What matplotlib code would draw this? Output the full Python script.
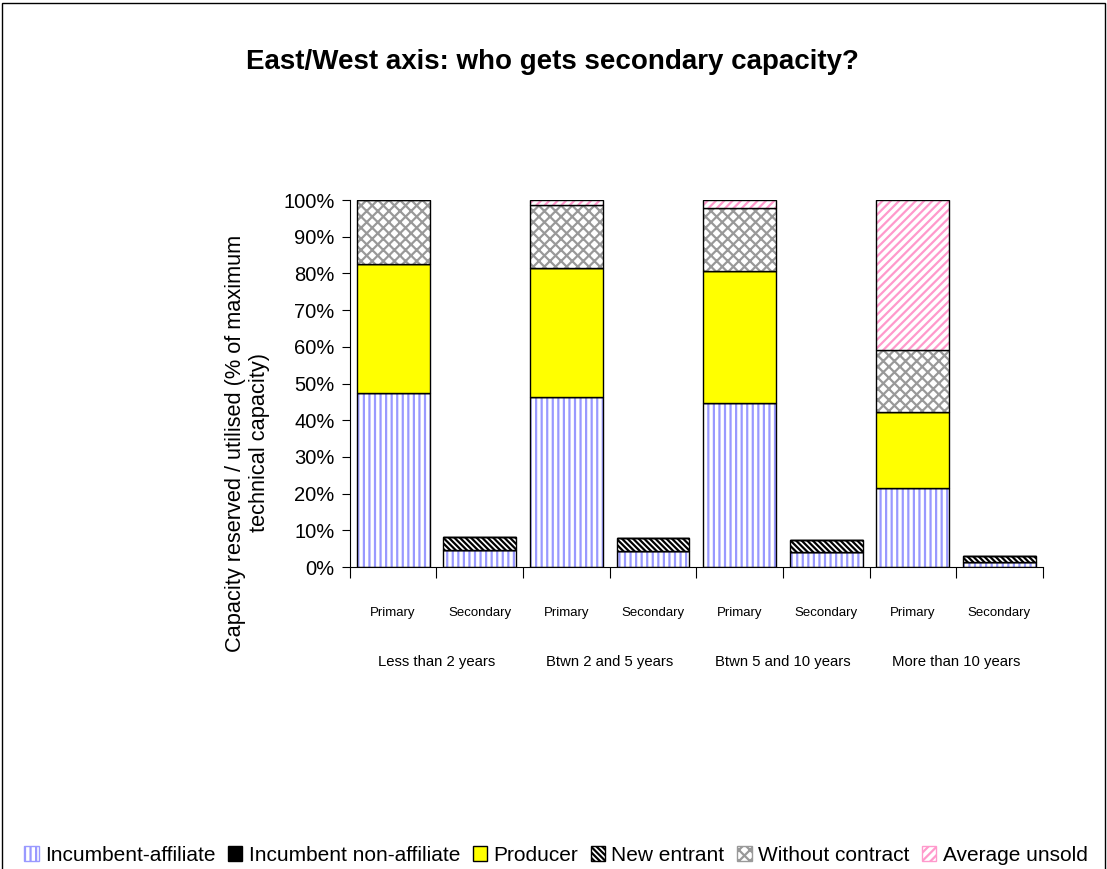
import numpy as np
import matplotlib
matplotlib.use('Agg')
import matplotlib.pyplot as plt
from matplotlib.patches import Rectangle, Patch

plt.rcParams['font.family'] = ['Liberation Sans', 'DejaVu Sans']
plt.rcParams['hatch.linewidth'] = 1.6

# data
groups = ['Less than 2 years', 'Btwn 2 and 5 years', 'Btwn 5 and 10 years', 'More than 10 years']
kinds = ['Primary', 'Secondary']
series = ['Incumbent-affiliate', 'Incumbent non-affiliate', 'Producer',
          'New entrant', 'Without contract', 'Average unsold']

inc_aff = [47.4, 4.6, 46.3, 4.4, 44.7, 4.2, 21.5, 1.4]
inc_non = [0.0, 0.0, 0.0, 0.0, 0.0, 0.0, 0.0, 0.0]
producer = [35.2, 0.0, 35.2, 0.0, 36.0, 0.0, 20.7, 0.0]
new_entrant = [0.0, 3.6, 0.0, 3.5, 0.0, 3.1, 0.0, 1.7]
without = [17.4, 0.0, 17.2, 0.0, 17.2, 0.0, 16.9, 0.0]
unsold = [0.0, 0.0, 1.3, 0.0, 2.1, 0.0, 40.9, 0.0]

values = [inc_aff, inc_non, producer, new_entrant, without, unsold]
# face, hatch, hatch colour
styles = [
    ('white', '|||', '#9999ff'),
    ('black', None, 'black'),
    ('#ffff00', None, 'black'),
    ('white', '\\\\\\\\\\\\', 'black'),
    ('white', 'xxx', '#999999'),
    ('white', '////', '#ff99cc'),
]

fig = plt.figure(figsize=(11.07, 8.69), dpi=100)
ax = fig.add_axes([0.316, 0.3475, 0.626, 0.4223])

x = np.arange(len(inc_aff))
w = 0.84
bottom = np.zeros(len(x))
for vals, (fc, hatch, hc) in zip(values, styles):
    vals = np.array(vals)
    if hatch:
        ax.bar(x, vals, w, bottom=bottom, color=fc, hatch=hatch, edgecolor=hc, linewidth=0)
    else:
        ax.bar(x, vals, w, bottom=bottom, color=fc, linewidth=0)
    ax.bar(x, vals, w, bottom=bottom, fill=False, edgecolor='black', linewidth=1)
    bottom += vals

ax.set_xlim(-0.5, len(x) - 0.5)
ax.set_ylim(0, 100)
ax.set_yticks(np.arange(0, 101, 10))
ax.set_yticklabels([f'{v}%' for v in range(0, 101, 10)], fontsize=14.5)
ax.set_xticks(np.arange(-0.5, len(x), 1))
ax.set_xticklabels([])
ax.tick_params(axis='x', length=8, color='black')
ax.tick_params(axis='y', length=6, color='black', pad=5)
for s in ['top', 'right']:
    ax.spines[s].set_visible(False)

for i in x:
    ax.text(i, -12.6, kinds[i % 2], ha='center', va='center', fontsize=9.5, clip_on=False)
for g, name in enumerate(groups):
    ax.text(2 * g + 0.5, -25.8, name, ha='center', va='center', fontsize=10.7, clip_on=False)

ax.set_ylabel('Capacity reserved / utilised (% of maximum\ntechnical capacity)', fontsize=15.7)
ax.yaxis.set_label_coords(-0.115, 0.338)

fig.text(0.499, 0.929, 'East/West axis: who gets secondary capacity?',
         ha='center', va='center', fontsize=20, fontweight='bold')

handles = []
for name, (fc, hatch, hc) in zip(series, styles):
    handles.append(Patch(facecolor=fc, hatch=hatch, edgecolor=hc if hatch else 'black', label=name))
fig.legend(handles=handles, loc='center', bbox_to_anchor=(0.502, 0.016), ncol=6,
           frameon=False, fontsize=15, handlelength=0.7, handleheight=0.7,
           handletextpad=0.3, columnspacing=0.6)

fig.patches.append(Rectangle((0.002, -0.01), 0.996, 1.007, transform=fig.transFigure,
                             fill=False, edgecolor='black', linewidth=1))

fig.savefig('out.png', dpi=100)
